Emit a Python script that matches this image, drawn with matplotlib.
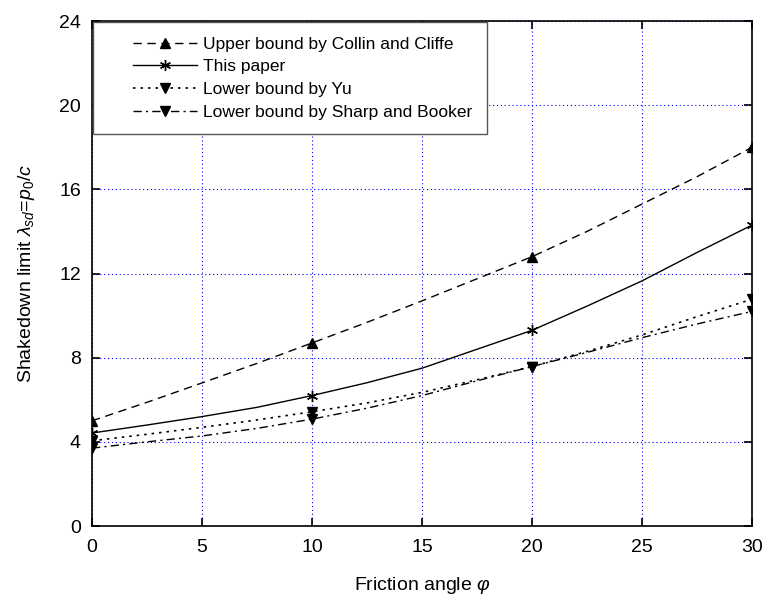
import matplotlib
matplotlib.use("Agg")
import matplotlib.pyplot as plt
from matplotlib.lines import Line2D
from matplotlib.legend_handler import HandlerLine2D

plt.rcParams['font.family'] = ['Liberation Sans', 'DejaVu Sans']
plt.rcParams['mathtext.fontset'] = 'custom'
plt.rcParams['mathtext.it'] = 'Liberation Sans:italic'
plt.rcParams['mathtext.rm'] = 'Liberation Sans'

# friction angle samples
phi = [0, 2.5, 5, 7.5, 10, 12.5, 15, 17.5, 20, 22.5, 25, 27.5, 30]
upper_collin = [5.0, 5.88, 6.8, 7.73, 8.7, 9.68, 10.7, 11.75, 12.8, 14.0, 15.3, 16.6, 18.0]
this_paper = [4.42, 4.8, 5.2, 5.64, 6.2, 6.81, 7.5, 8.4, 9.3, 10.45, 11.65, 13.0, 14.3]
lower_yu = [4.05, 4.36, 4.69, 5.04, 5.43, 5.85, 6.35, 6.95, 7.58, 8.3, 9.08, 9.95, 10.78]
lower_sharp = [3.7, 4.0, 4.28, 4.64, 5.08, 5.6, 6.2, 6.9, 7.58, 8.25, 8.95, 9.6, 10.2]
marker_idx = [0, 4, 8, 12]  # markers at 0, 10, 20, 30

labels = ["Upper bound by Collin and Cliffe", "This paper",
          "Lower bound by Yu", "Lower bound by Sharp and Booker"]

FS = 14
LFS = 12.5

fig = plt.figure(figsize=(7.63, 6.0), dpi=100)
ax = fig.add_axes([0.1206, 0.1233, 0.865, 0.8417])

ax.plot(phi, upper_collin, color='k', ls=(0, (6, 4)), lw=1.0, marker='^', ms=6.5,
        markevery=marker_idx, label=labels[0])
ax.plot(phi, this_paper, color='k', ls='-', lw=1.0, marker=(6, 2, 0), ms=8,
        markevery=marker_idx, label=labels[1])
ax.plot(phi, lower_yu, color='k', ls=(0, (1.5, 3)), lw=1.2, marker='v', ms=6.5,
        markevery=marker_idx, label=labels[2])
ax.plot(phi, lower_sharp, color='k', ls=(0, (6, 3, 1.5, 3)), lw=1.0, marker='v', ms=6.5,
        markevery=marker_idx, label=labels[3])

ax.set_xlim(0, 30)
ax.set_ylim(0, 24)
ax.set_xticks([0, 5, 10, 15, 20, 25, 30])
ax.set_yticks([0, 4, 8, 12, 16, 20, 24])
ax.grid(True, color='blue', ls=(0, (1, 2.5)), lw=0.8)
ax.tick_params(direction='in', length=6, width=1.2, labelsize=FS,
               top=True, right=True)
ax.tick_params(axis='x', pad=9)
ax.tick_params(axis='y', pad=8)
for s in ax.spines.values():
    s.set_linewidth(1.2)

ax.set_xlabel(r"Friction angle $\varphi$", fontsize=FS, labelpad=14)
ax.set_ylabel(r"Shakedown limit $\lambda_{sd}$=$p_0$/$c$", fontsize=FS, labelpad=16)

leg = ax.legend(loc='upper left', fontsize=LFS, numpoints=1, handlelength=5.15,
                borderaxespad=0.05, fancybox=False, framealpha=1,
                edgecolor='#555555', labelspacing=0.43, borderpad=0.85,
                handletextpad=0.35,
                handler_map={Line2D: HandlerLine2D(xpad=1.45)})
leg.get_frame().set_linewidth(1.0)

fig.savefig("out.png", dpi=100)
